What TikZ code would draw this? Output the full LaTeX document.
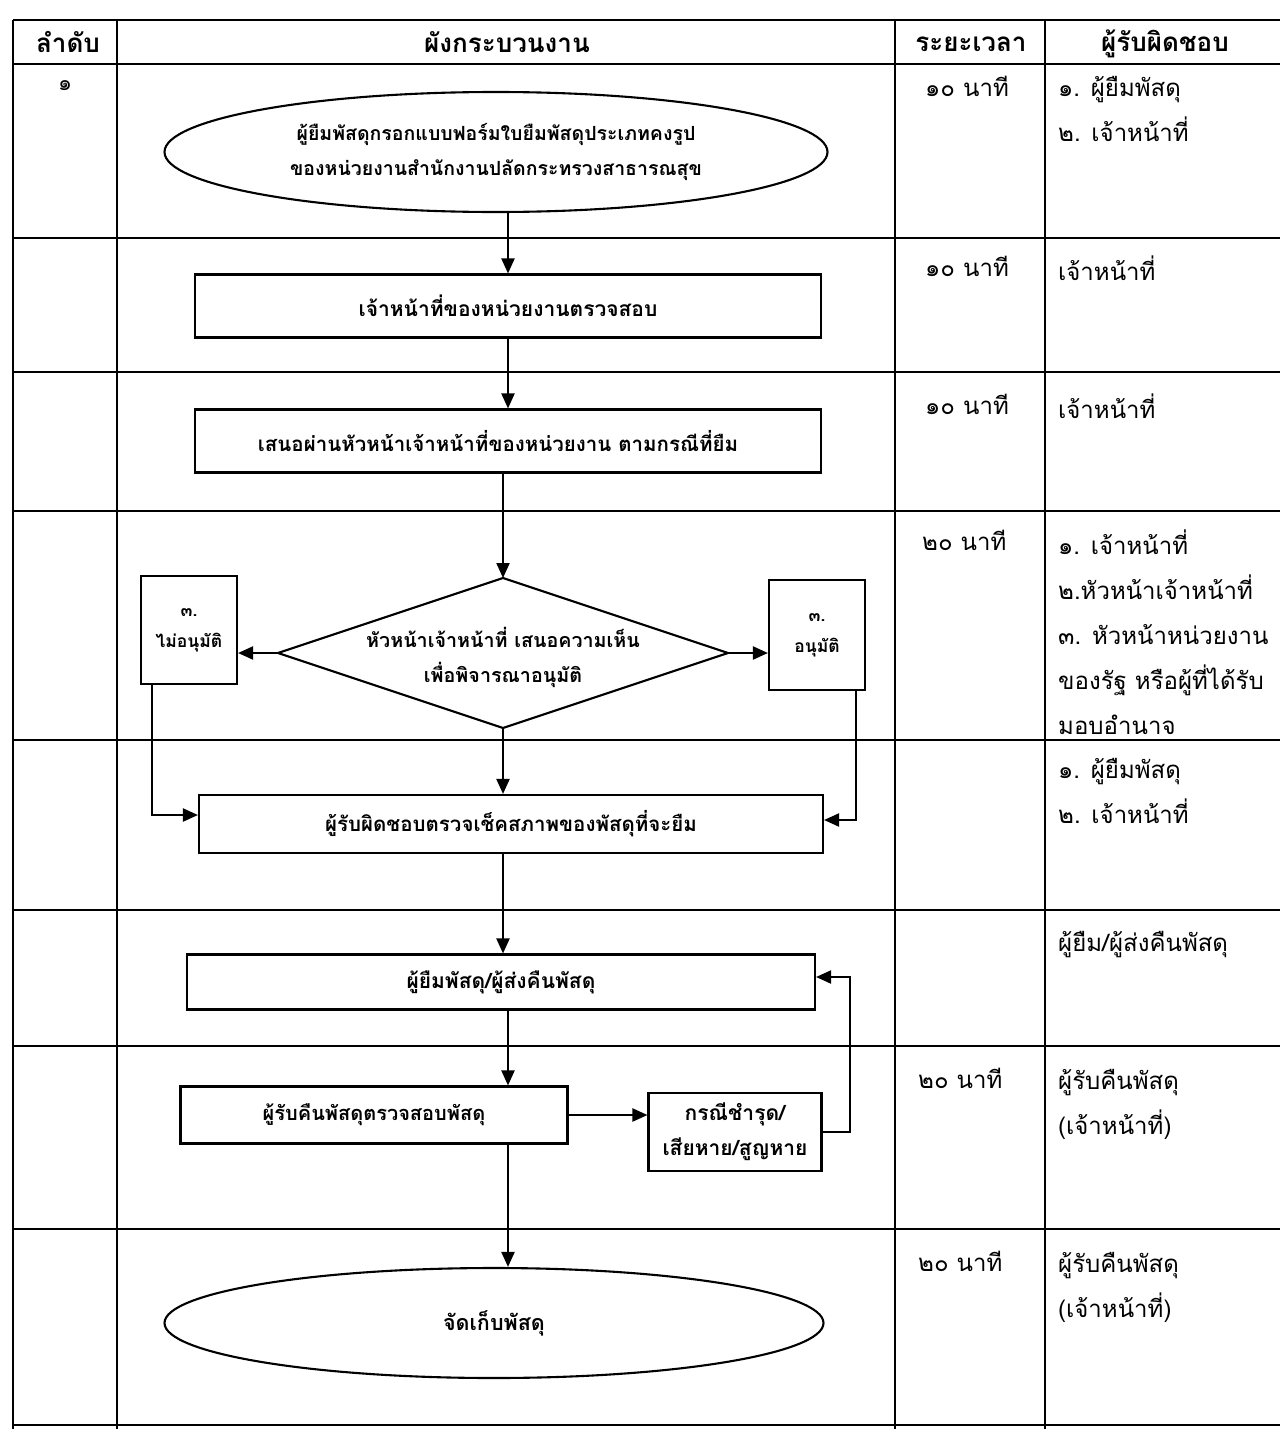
\documentclass[tikz,border=0pt]{standalone}
\usepackage{fontspec}
\setmainfont[Script=Thai]{Loma}
\usetikzlibrary{arrows.meta,shapes.geometric}
\newcommand{\fs}[2]{\fontsize{#1}{#2}\selectfont\bfseries}
\begin{document}
\begin{tikzpicture}[x=1pt,y=-1pt,
  grid/.style={line width=2.1pt},
  flow/.style={line width=2.1pt,inner sep=0pt,align=center,font=\fs{20.5}{35}},
  boxn/.style={flow,draw,rectangle},
  ell/.style={flow,draw,ellipse},
  dia/.style={flow,rectangle},
  arr/.style={line width=2.1pt,-{Triangle[length=15pt,width=13pt]}},
  hdr/.style={inner sep=0pt,font=\fontsize{26}{30}\selectfont\bfseries},
  cell/.style={inner sep=0pt,anchor=north west,align=left,font=\fontsize{24}{45}\selectfont}]
\useasboundingbox (0,0) rectangle (1280,1429);
% table
\foreach \yy in {20,64,238,372,511,740,910,1046,1229,1425}
  \draw[grid] (13,\yy) -- (1280,\yy);
\foreach \xx in {13,117,895,1045}
  \draw[grid] (\xx,20) -- (\xx,1429);
% header
\node[hdr] (h1) at (68,42) {ลำดับ};
\node[hdr] (h2) at (507,42) {ผังกระบวนงาน};
\node[hdr] (h3) at (971,44) {ระยะเวลา};
\node[hdr] (h4) at (1165,44) {ผู้รับผิดชอบ};
% column 1
\node[cell,font=\fontsize{22}{30}\selectfont] (n1) at (58,80) {๑};
% time column
\node[cell] (t1) at (925,76) {๑๐ นาที};
\node[cell] (t2) at (925,256) {๑๐ นาที};
\node[cell] (t3) at (925,394) {๑๐ นาที};
\node[cell] (t4) at (922,530) {๒๐ นาที};
\node[cell] (t7) at (918,1068) {๒๐ นาที};
\node[cell] (t8) at (918,1251) {๒๐ นาที};
% responsibility column
\node[cell] (r1) at (1058,76) {๑. ผู้ยืมพัสดุ\\๒. เจ้าหน้าที่};
\node[cell] (r2) at (1058,256) {เจ้าหน้าที่};
\node[cell] (r3) at (1058,394) {เจ้าหน้าที่};
\node[cell] (r4) at (1058,530) {๑. เจ้าหน้าที่\\๒.หัวหน้าเจ้าหน้าที่\\๓. หัวหน้าหน่วยงาน\\ของรัฐ หรือผู้ที่ได้รับ\\มอบอำนาจ};
\node[cell] (r5) at (1058,758) {๑. ผู้ยืมพัสดุ\\๒. เจ้าหน้าที่};
\node[cell] (r6) at (1058,931) {ผู้ยืม/ผู้ส่งคืนพัสดุ};
\node[cell] (r7) at (1058,1069) {ผู้รับคืนพัสดุ\\(เจ้าหน้าที่)};
\node[cell] (r8) at (1058,1252) {ผู้รับคืนพัสดุ\\(เจ้าหน้าที่)};
% flow nodes
\node[ell,font=\fs{19.5}{35},minimum width=663pt,minimum height=120pt] (e1) at (496,152) {ผู้ยืมพัสดุกรอกแบบฟอร์มใบยืมพัสดุประเภทคงรูป\\ของหน่วยงานสำนักงานปลัดกระทรวงสาธารณสุข};
\node[boxn,font=\fs{21}{35},minimum width=626pt,minimum height=63pt] (b2) at (508,306) {เจ้าหน้าที่ของหน่วยงานตรวจสอบ};
\node[boxn,minimum width=626pt,minimum height=63pt] (b3) at (508,441) {\hspace*{-20pt}เสนอผ่านหัวหน้าเจ้าหน้าที่ของหน่วยงาน ตามกรณีที่ยืม};
\node[dia,font=\fs{19.7}{35},minimum width=451pt,minimum height=150pt] (d) at (503,657) {หัวหน้าเจ้าหน้าที่ เสนอความเห็น\\เพื่อพิจารณาอนุมัติ};
\draw[line width=2.1pt,line join=miter] (503,578) -- (728,653) -- (503,728) -- (278,653) -- cycle;
\node[boxn,font=\fs{17.5}{31},minimum width=96pt,minimum height=108pt] (nl) at (189,630) {๓.\\ไม่อนุมัติ};
\node[boxn,font=\fs{17.5}{31},minimum width=96pt,minimum height=110pt] (na) at (817,635) {๓.\\อนุมัติ};
\node[boxn,minimum width=624pt,minimum height=58pt] (b4) at (511,824) {ผู้รับผิดชอบตรวจเช็คสภาพของพัสดุที่จะยืม};
\node[boxn,font=\fs{21}{35},minimum width=628pt,minimum height=55pt] (b5) at (501,982) {ผู้ยืมพัสดุ/ผู้ส่งคืนพัสดุ};
\node[boxn,font=\fs{20}{35},minimum width=387pt,minimum height=57pt] (b6) at (374,1115) {ผู้รับคืนพัสดุตรวจสอบพัสดุ};
\node[boxn,font=\fs{21}{35},minimum width=173pt,minimum height=78pt] (b7) at (735,1132) {กรณีชำรุด/\\เสียหาย/สูญหาย};
\node[ell,font=\fs{21.5}{35},minimum width=659pt,minimum height=110pt] (e2) at (494,1323) {จัดเก็บพัสดุ};
% connectors
\coordinate (mx) at (508,0);
\coordinate (lp) at (850,0);
\coordinate (dn) at (503,578);
\coordinate (de) at (728,653);
\coordinate (ds) at (503,728);
\coordinate (dw) at (278,653);
\draw[arr] (e1.south -| b2.north) -- (b2.north);
\draw[arr] (b2.south) -- (b3.north);
\draw[arr] (b3.south -| dn) -- (dn);
\draw[arr] (dw) -- (dw -| nl.east);
\draw[arr] (de) -- (de -| na.west);
\draw[arr] (ds) -- (ds |- b4.north);
\draw[arr] ([xshift=12pt]nl.south west) |- ([yshift=9pt]b4.west);
\draw[arr] ([xshift=-10pt]na.south east) |- ([yshift=4pt]b4.east);
\draw[arr] (b4.south -| ds) -- (b5.north -| ds);
\draw[arr] (b5.south -| mx) -- (b6.north -| mx);
\draw[arr] (b6.east) -- (b6.east -| b7.west);
\draw[arr] (b7.east) -- (b7.east -| lp) |- ([yshift=5pt]b5.east);
\draw[arr] (b6.south -| mx) -- (e2.north -| mx);
\end{tikzpicture}
\end{document}
